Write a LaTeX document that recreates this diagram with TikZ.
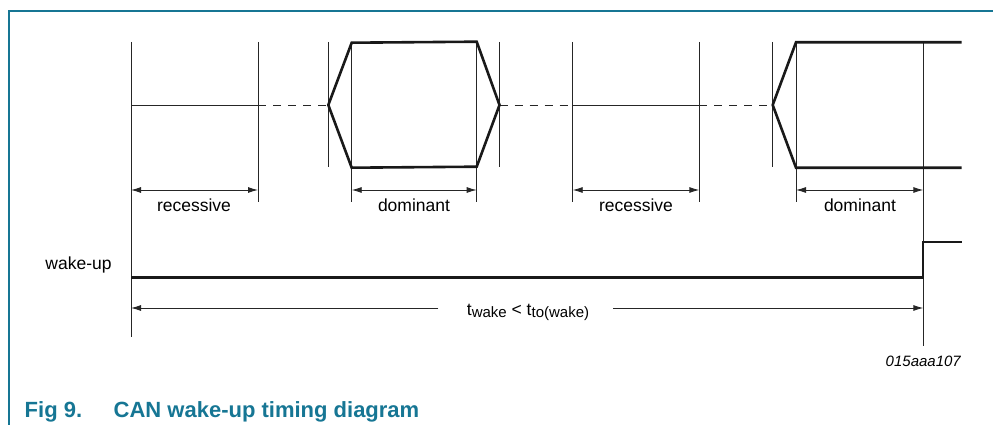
\documentclass[tikz,border=0pt]{standalone}
\usepackage{fontspec}
\setmainfont{Liberation Sans}
\usetikzlibrary{arrows.meta}
\definecolor{nxpteal}{RGB}{22,118,148}
\tikzset{
  thinline/.style={line width=0.9pt, black!85},
  sigline/.style={line width=2.6pt, black!90, line join=miter},
  dashline/.style={line width=0.9pt, black!85, dash pattern=on 8pt off 7pt},
  dimline/.style={line width=0.9pt, black!85, {Latex[length=10pt,width=6pt]}-{Latex[length=10pt,width=6pt]}},
  oneline/.style={line width=0.9pt, black!85, -{Latex[length=10pt,width=6pt]}},
  lbl/.style={font=\fontsize{17.5}{20}\selectfont, inner sep=0pt, anchor=base},
  frameline/.style={line width=1.5pt, nxpteal},
  captxt/.style={font=\fontsize{22}{24}\selectfont\bfseries, text=nxpteal, inner sep=0pt, anchor=base west}
}
\newcommand{\subtxt}[1]{\raisebox{-2.5pt}{\fontsize{15}{16}\selectfont #1}}
\begin{document}
\begin{tikzpicture}[x=1pt,y=-1pt]
\useasboundingbox (0,0) rectangle (993,425);
% frame
\draw[frameline] (9,425) -- (9,11) -- (993,11);
% vertical markers
\foreach \n/\x/\yb in {a/131/337, b/258/202, c/328.3/167, d/351.7/202, e/476.7/202, f/499.5/167, g/572.7/202, h/699.3/202, i/772.7/167, j/796/202, k/923.3/346}{
  \coordinate (t\n) at (\x,42);
  \coordinate (b\n) at (\x,\yb);
  \draw[thinline] (t\n) -- (b\n);
}
% recessive levels
\draw[thinline] (131,105) -- (258,105);
\draw[thinline] (572.7,105) -- (699.3,105);
\draw[dashline] (258,105) -- (328.3,105);
\draw[dashline] (499.5,105) -- (572.7,105);
\draw[dashline] (699.3,105) -- (772.7,105);
% dominant bits
\draw[sigline] (328.3,105) -- (351.7,42.7) -- (476.7,41.7) -- (499.5,105) -- (476.7,166.7) -- (351.7,167.7) -- cycle;
\draw[sigline] (961.7,42.3) -- (796,42.3) -- (772.7,105) -- (796,167.7) -- (961.7,167.7);
% dimension arrows
\foreach \p/\q in {a/b, d/e, g/h, j/k}{
  \coordinate (l\p) at (t\p |- 0,190);
  \coordinate (r\q) at (t\q |- 0,190);
  \draw[dimline] (l\p) -- (r\q);
}
\node[lbl] (rec1) at (194,211) {recessive};
\node[lbl] (dom1) at (414,211) {dominant};
\node[lbl] (rec2) at (636,211) {recessive};
\node[lbl] (dom2) at (860,211) {dominant};
% wake-up signal
\node[lbl] (wk) at (78.5,269.5) {wake-up};
\draw[sigline, line width=2.3pt] (131,277.5) -- (923.3,277.5) -- (923.3,242.3) -- (961.7,242.3);
% t_wake arrow
\node[lbl] (tw) at (528,315) {t\subtxt{wake} < t\subtxt{to(wake)}};
\coordinate (twl) at (438.3,308);
\coordinate (twr) at (613.3,308);
\draw[oneline] (twl) -- (ta |- twl);
\draw[oneline] (twr) -- (tk |- twr);
% id
\node[font=\fontsize{15}{17}\selectfont\itshape, inner sep=0pt, anchor=base east] (id) at (961,366.7) {015aaa107};
% caption
\node[captxt] (fig) at (24.5,417.5) {Fig 9.};
\node[captxt] (cap) at (113.5,417.5) {CAN wake-up timing diagram};
\end{tikzpicture}
\end{document}
